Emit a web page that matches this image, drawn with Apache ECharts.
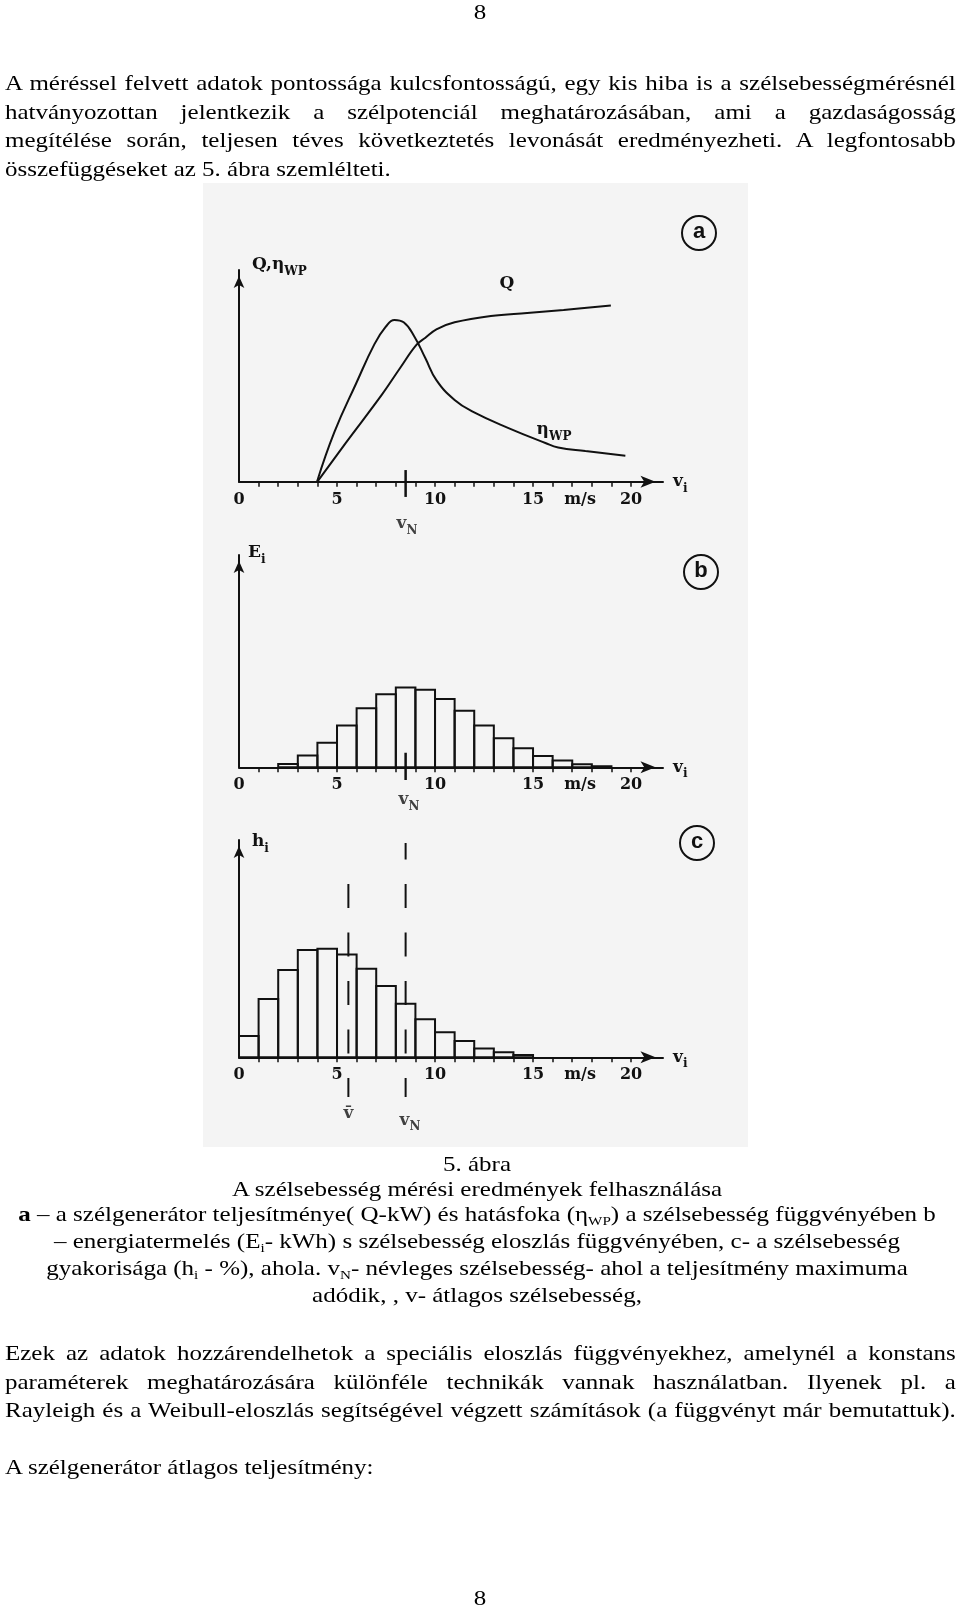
<!DOCTYPE html>
<html><head><meta charset="utf-8">
<script src="https://cdn.jsdelivr.net/npm/echarts@6/dist/echarts.min.js"></script>
<style>
html,body{margin:0;padding:0;background:#fff;}
#page{position:relative;width:960px;height:1609px;overflow:hidden;}
#chart{position:absolute;left:0;top:0;width:960px;height:1609px;}
.txt{position:absolute;font-family:'Liberation Serif','Times New Roman',serif;color:#000;white-space:nowrap;z-index:2;}
.p{font-size:22px;line-height:28.5px;transform-origin:0 0;transform:scaleX(1.136);left:5px;width:837px;}
.p div{text-align:justify;text-align-last:justify;}
.p div.last{text-align:left;text-align-last:left;}
.cap{font-size:21.5px;line-height:25px;transform-origin:480px 0;transform:scaleX(1.163);left:-3.5px;width:960px;text-align:center;}
.pn{font-size:22px;line-height:28.5px;transform-origin:480px 0;transform:scaleX(1.136);left:0;width:960px;text-align:center;}
.sub{font-size:13px;position:relative;top:4px;}
</style></head>
<body>
<div id="page">
<div id="chart"></div>
<div class="txt pn" style="top:-2px">8</div>
<div class="txt p" style="top:69px">
<div>A méréssel felvett adatok pontossága kulcsfontosságú, egy kis hiba is a szélsebességmérésnél</div>
<div>hatványozottan jelentkezik a szélpotenciál meghatározásában, ami a gazdaságosság</div>
<div>megítélése során, teljesen téves következtetés levonását eredményezheti. A legfontosabb</div>
<div class="last">összefüggéseket az 5. ábra szemlélteti.</div>
</div>
<div class="txt cap" style="top:1152px">5. ábra<br>A szélsebesség mérési eredmények felhasználása<br><b>a</b> – a szélgenerátor teljesítménye( Q-kW) és hatásfoka (η<span class="sub">WP</span>) a szélsebesség függvényében b<br>– energiatermelés (E<span class="sub">i</span>- kWh) s szélsebesség eloszlás függvényében, c- a szélsebesség<br>gyakorisága (h<span class="sub">i</span> - %), ahola. v<span class="sub">N</span>- névleges szélsebesség- ahol a teljesítmény maximuma<br>adódik, , v- átlagos szélsebesség,</div>
<div class="txt p" style="top:1339px">
<div>Ezek az adatok hozzárendelhetok a speciális eloszlás függvényekhez, amelynél a konstans</div>
<div>paraméterek meghatározására különféle technikák vannak használatban. Ilyenek pl. a</div>
<div>Rayleigh és a Weibull-eloszlás segítségével végzett számítások (a függvényt már bemutattuk).</div>
</div>
<div class="txt p" style="top:1453px"><div class="last">A szélgenerátor átlagos teljesítmény:</div></div>
<div class="txt pn" style="top:1584px">8</div>
</div>
<script>
// ---- data ----
const speedMax = 21.63;
const tickValues = [1,2,3,4,5,6,7,8,9,10,11,12,13,14,15,16,17,18,19,20];
const labelValues = [0,5,10,15,17.4,20];
const labelTexts = ['0','5','10','15','m/s','20'];
// panel a: power Q and efficiency eta_WP vs wind speed
const qSpeed = [4.0,5.43,7.28,8.21,9.05,9.51,10.07,11.0,12.85,14.7,16.56,18.97];
const qPower = [0,18.1,41.0,53.6,64.6,68.0,72.0,75.3,78.3,79.7,81.1,83.2];
const etaSpeed = [3.98,4.87,5.98,6.91,7.47,7.93,8.4,8.95,9.51,10.07,11.0,11.92,13.78,15.63,16.28,17.67,19.71];
const etaValue = [0,23.5,46.5,65.0,73.0,76.4,75.3,68.5,58.3,48.0,38.6,33.1,25.2,18.3,16.2,14.5,12.3];
// panel b: energy per speed bin
const binStartB = [2,3,4,5,6,7,8,9,10,11,12,13,14,15,16,17,18];
const energyB = [1.6,5.5,11.6,19.7,27.8,34.4,37.6,36.5,32.2,26.6,19.7,13.7,9.0,5.3,3.2,1.4,0.5];
// panel c: frequency per speed bin
const binStartC = [0,1,2,3,4,5,6,7,8,9,10,11,12,13,14];
const freqC = [9.8,26.8,40.2,49.4,50.0,47.3,40.8,32.8,24.7,17.5,11.5,7.5,4.1,2.3,1.1];
const vN = 8.5;
const vMean = 5.58;

const INK = '#111';
const BG = '#f4f4f4';
const FIGFONT = 'DejaVu Serif';
const subRich = {
  m: {fontFamily:FIGFONT, fontWeight:'bold', fontSize:17, color:INK, lineHeight:26, verticalAlign:'middle'},
  s: {fontFamily:FIGFONT, fontWeight:'bold', fontSize:12, color:INK, lineHeight:26, verticalAlign:'bottom'}
};

const chart = echarts.init(document.getElementById('chart'), null, {renderer:'canvas'});

const grids = [
  {left:239, top:270, width:424, height:211.7, outerBoundsMode:'none'},
  {left:239, top:555, width:424, height:212.3, outerBoundsMode:'none'},
  {left:239, top:840, width:424, height:217.3, outerBoundsMode:'none'}
];

function xAx(i){
  return {
    gridIndex:i, type:'value', min:0, max:speedMax,
    axisLine:{show:true, onZero:false, lineStyle:{color:INK, width:2},
      symbol:['none','arrow'], symbolSize:[9,15], symbolOffset:[0,-7.5]},
    axisTick:{show:true, customValues:tickValues, length:5, lineStyle:{color:INK, width:1.5}},
    axisLabel:{show:true, customValues:labelValues, hideOverlap:false,
      formatter:function(v){ for(let k=0;k<labelValues.length;k++){ if(Math.abs(labelValues[k]-v)<1e-6) return labelTexts[k]; } return ''; },
      margin:10, fontFamily:FIGFONT, fontWeight:'bold', fontSize:16, color:INK},
    splitLine:{show:false},
    name:'{m|v}{s|i}', nameLocation:'end', nameGap:10,
    nameTextStyle:{rich:subRich, align:'left', verticalAlign:'middle'}
  };
}
function yAx(i, name, pad, gap){
  return {
    gridIndex:i, type:'value', min:0, max:100,
    axisLine:{show:true, onZero:false, lineStyle:{color:INK, width:2},
      symbol:['none','arrow'], symbolSize:[8,12], symbolOffset:[0,-6]},
    axisTick:{show:false}, axisLabel:{show:false}, splitLine:{show:false},
    name:name, nameLocation:'end', nameGap:gap,
    nameTextStyle:{rich:subRich, align:'left', verticalAlign:'middle', padding:[0,0,0,pad]}
  };
}

function barItem(params, api){
  const s = api.value(0), h = api.value(1);
  const p0 = api.coord([s, h]);
  const p1 = api.coord([s + 1, 0]);
  return {type:'rect', shape:{x:p0[0], y:p0[1], width:p1[0]-p0[0], height:p1[1]-p0[1]},
    style:{fill:'none', stroke:INK, lineWidth:2}};
}

function mp(coord, text){
  return {symbol:'circle', symbolSize:0, silent:true, animation:false,
    data:[{coord:coord, label:{show:true, position:'inside', formatter:text, rich:subRich}}]};
}
function labels(ax, items){
  return {type:'scatter', xAxisIndex:ax, yAxisIndex:ax, clip:false, silent:true, symbolSize:0, z:5,
    itemStyle:{color:'rgba(0,0,0,0)'},
    label:{show:true, position:'inside', rich:subRich},
    data:items.map(it=>({value:it.at, label:{show:true, position:'inside', formatter:it.text, rich:subRich}}))};
}

const option = {
  animation:false,
  backgroundColor:'#ffffff',
  grid: grids,
  xAxis:[xAx(0), xAx(1), xAx(2)],
  yAxis:[yAx(0,'{m|Q,η}{s|WP}',13,5), yAx(1,'{m|E}{s|i}',9,2), yAx(2,'{m|h}{s|i}',13,-2)],
  graphic:[
    {type:'rect', z:-10, silent:true, shape:{x:203, y:183, width:545, height:964}, style:{fill:BG}},
    {type:'circle', shape:{cx:699, cy:233, r:17}, style:{fill:'none', stroke:INK, lineWidth:2}},
    {type:'text', x:699, y:232, style:{text:'a', fontFamily:'Liberation Sans', fontWeight:'bold', fontSize:22, fill:INK, align:'center', verticalAlign:'middle'}},
    {type:'circle', shape:{cx:701, cy:572, r:17}, style:{fill:'none', stroke:INK, lineWidth:2}},
    {type:'text', x:701, y:571, style:{text:'b', fontFamily:'Liberation Sans', fontWeight:'bold', fontSize:22, fill:INK, align:'center', verticalAlign:'middle'}},
    {type:'circle', shape:{cx:697, cy:843, r:17}, style:{fill:'none', stroke:INK, lineWidth:2}},
    {type:'text', x:697, y:842, style:{text:'c', fontFamily:'Liberation Sans', fontWeight:'bold', fontSize:22, fill:INK, align:'center', verticalAlign:'middle'}}
  ],
  series:[
    {type:'line', name:'Q', xAxisIndex:0, yAxisIndex:0, smooth:0.4, showSymbol:false, symbol:'none',
      data:qSpeed.map((s,i)=>[s,qPower[i]]), lineStyle:{color:INK, width:2},
      markPoint:mp([13.67,93.7],'{m|Q}')},
    {type:'line', name:'eta', xAxisIndex:0, yAxisIndex:0, smooth:0.45, showSymbol:false, symbol:'none',
      data:etaSpeed.map((s,i)=>[s,etaValue[i]]), lineStyle:{color:INK, width:2},
      markPoint:mp([16.07,24.4],'{m|η}{s|WP}')},
    {type:'line', xAxisIndex:0, yAxisIndex:0, clip:false, showSymbol:false, symbol:'none',
      data:[[vN,-7.2],[vN,5.5]], lineStyle:{color:INK, width:2.5}},
    labels(0, [{at:[vN+0.07,-20], text:'{m|v}{s|N}'}]),
    {type:'custom', xAxisIndex:1, yAxisIndex:1, coordinateSystem:'cartesian2d', clip:false,
      renderItem:barItem, encode:{x:0, y:1}, data:binStartB.map((s,i)=>[s,energyB[i]])},
    {type:'line', xAxisIndex:1, yAxisIndex:1, clip:false, showSymbol:false, symbol:'none', z:3,
      data:[[vN,-6],[vN,6.9]], lineStyle:{color:INK, width:2.5}},
    labels(1, [{at:[vN+0.17,-15.4], text:'{m|v}{s|N}'}]),
    {type:'custom', xAxisIndex:2, yAxisIndex:2, coordinateSystem:'cartesian2d', clip:false,
      renderItem:barItem, encode:{x:0, y:1}, data:binStartC.map((s,i)=>[s,freqC[i]])},
    {type:'line', xAxisIndex:2, yAxisIndex:2, clip:false, showSymbol:false, symbol:'none', z:3,
      data:[[vMean,-18.3],[vMean,80.2]], lineStyle:{color:INK, width:2, type:[24,24.5], dashOffset:5}},
    {type:'line', xAxisIndex:2, yAxisIndex:2, clip:false, showSymbol:false, symbol:'none', z:3,
      data:[[vN,-18.3],[vN,98.6]], lineStyle:{color:INK, width:2, type:[24,24.5], dashOffset:5}},
    labels(2, [{at:[vMean,-25.8], text:'{m|v\u0304}'}, {at:[vN+0.22,-29], text:'{m|v}{s|N}'}])
  ]
};
chart.setOption(option);
</script>
</body></html>
